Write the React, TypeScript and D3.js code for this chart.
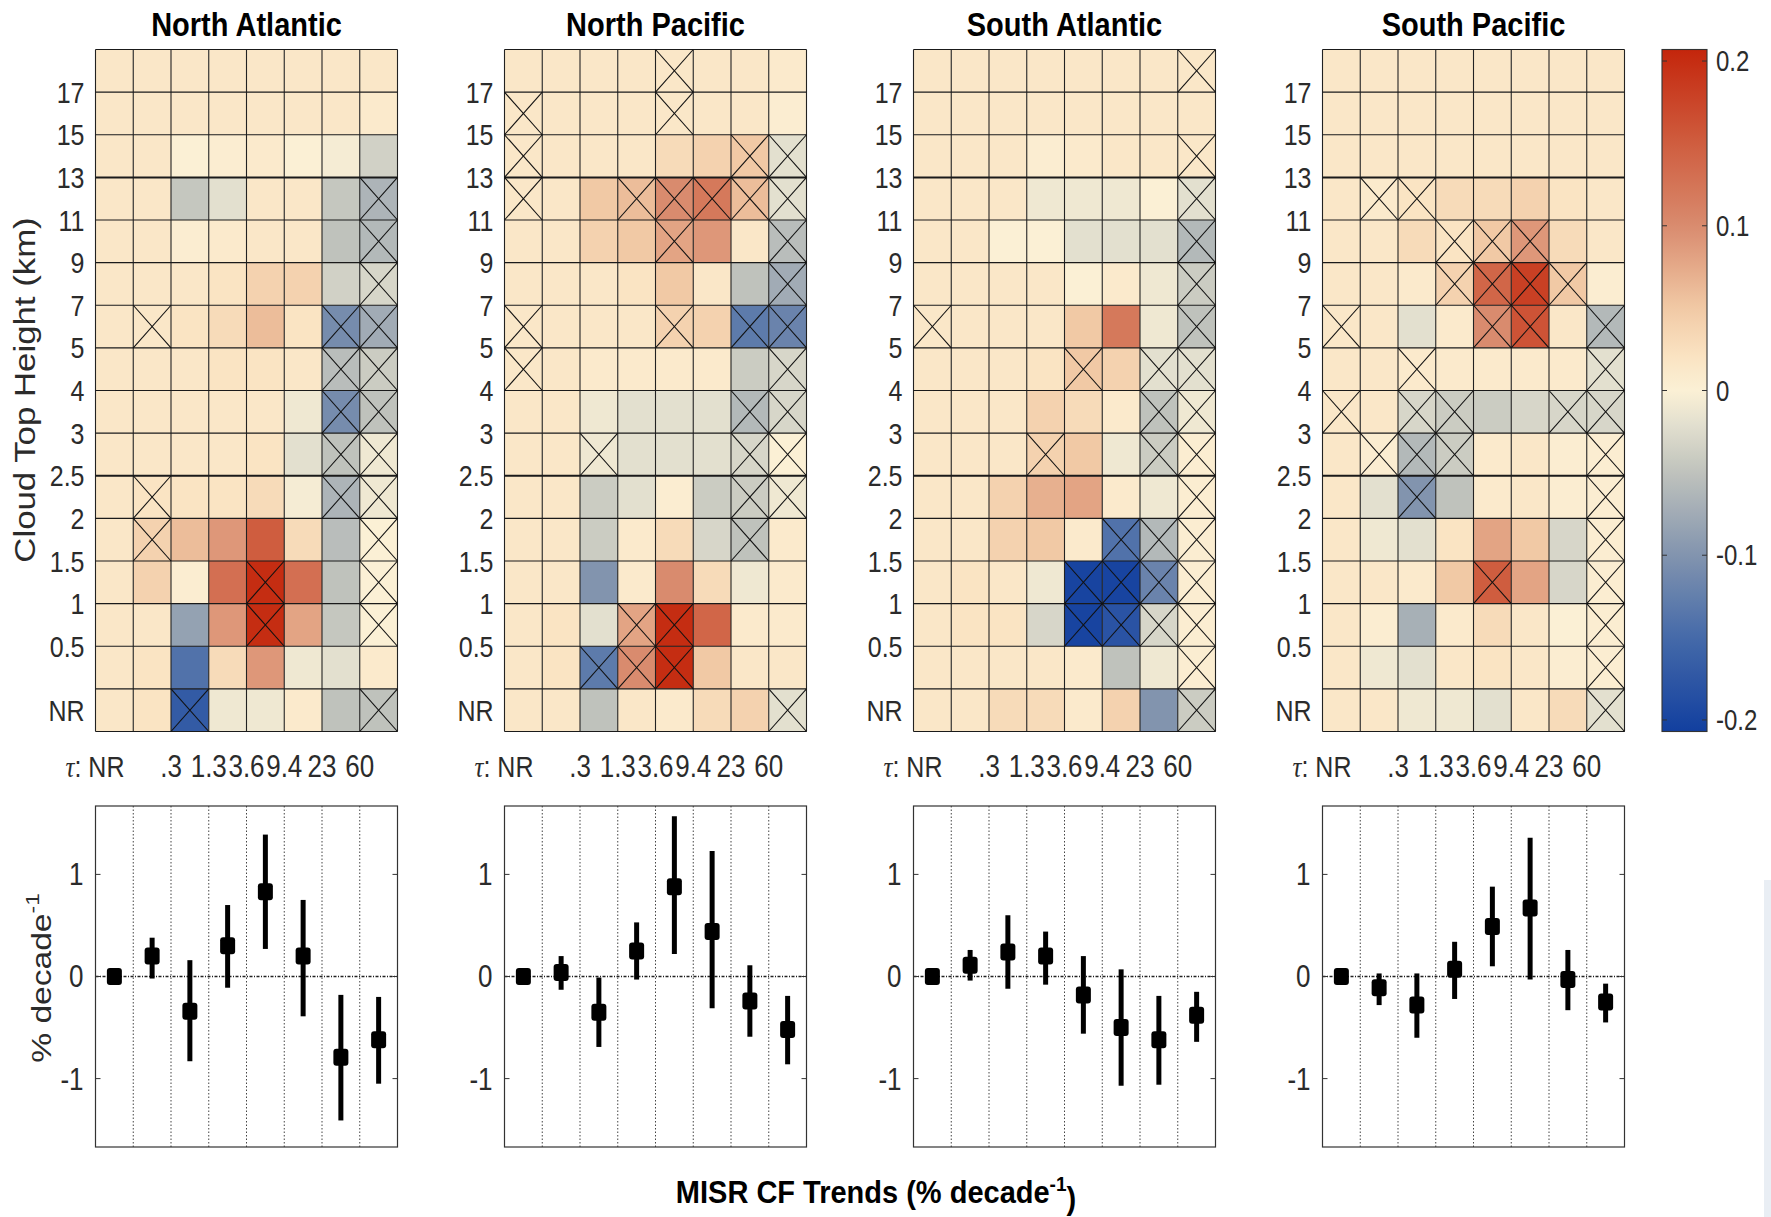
import React from "react";
import * as d3 from "d3";

// ---------------- DATA ----------------
const regions = ["North Atlantic", "North Pacific", "South Atlantic", "South Pacific"];
// height rows, top (>17 km) to bottom (NR)
const heightLabels = ["17", "15", "13", "11", "9", "7", "5", "4", "3", "2.5", "2", "1.5", "1", "0.5"];
const tauLabels = [".3", "1.3", "3.6", "9.4", "23", "60"];
const trendTicks = [1, 0, -1];
const colorTicks = [0.2, 0.1, 0, -0.1, -0.2];

const naTrend = [
  [0.015, 0.015, 0.015, 0.015, 0.015, 0.015, 0.015, 0.015],
  [0.015, 0.015, 0.015, 0.015, 0.015, 0.015, 0.015, 0.01],
  [0.015, 0.015, 0.0, 0.005, 0.01, 0.0, -0.005, -0.035],
  [0.015, 0.015, -0.045, -0.02, 0.015, 0.015, -0.045, -0.065],
  [0.015, 0.015, 0.005, 0.01, 0.015, 0.015, -0.05, -0.06],
  [0.015, 0.015, 0.015, 0.02, 0.04, 0.04, -0.035, -0.03],
  [0.015, 0.015, 0.02, 0.03, 0.06, 0.02, -0.11, -0.075],
  [0.015, 0.015, 0.015, 0.02, 0.02, 0.015, -0.055, -0.04],
  [0.015, 0.015, 0.015, 0.015, 0.015, -0.01, -0.11, -0.05],
  [0.015, 0.015, 0.015, 0.015, 0.02, -0.02, -0.05, -0.01],
  [0.015, 0.02, 0.02, 0.02, 0.03, -0.005, -0.065, -0.01],
  [0.015, 0.04, 0.06, 0.09, 0.15, 0.03, -0.055, 0.0],
  [0.015, 0.04, 0.005, 0.13, 0.2, 0.13, -0.05, 0.0],
  [0.015, 0.015, -0.085, 0.09, 0.2, 0.08, -0.045, 0.0],
  [0.015, 0.02, -0.14, 0.03, 0.09, -0.01, -0.02, 0.01],
  [0.015, 0.02, -0.17, -0.01, -0.01, 0.01, -0.05, -0.05],
];
const naSig = [
  "........", "........", "........", ".......x", ".......x", ".......x", ".x....xx", "......xx",
  "......xx", "......xx", ".x....xx", ".x.....x", "....x..x", "....x..x", "........", "..x....x",
];

const npTrend = [
  [0.015, 0.015, 0.015, 0.015, 0.015, 0.015, 0.015, 0.01],
  [0.015, 0.015, 0.015, 0.015, 0.015, 0.015, 0.015, 0.005],
  [0.015, 0.015, 0.015, 0.015, 0.03, 0.04, 0.05, -0.02],
  [0.015, 0.015, 0.05, 0.06, 0.1, 0.12, 0.06, -0.02],
  [0.015, 0.015, 0.04, 0.05, 0.08, 0.09, 0.015, -0.055],
  [0.015, 0.015, 0.015, 0.02, 0.05, 0.015, -0.05, -0.075],
  [0.015, 0.015, 0.015, 0.015, 0.04, 0.04, -0.13, -0.12],
  [0.015, 0.015, 0.01, 0.01, 0.01, 0.01, -0.04, -0.03],
  [0.015, 0.015, -0.01, -0.02, -0.02, -0.02, -0.06, -0.03],
  [0.015, 0.015, -0.01, -0.02, -0.02, -0.02, -0.03, 0.0],
  [0.015, 0.015, -0.04, -0.02, 0.005, -0.04, -0.04, -0.01],
  [0.015, 0.015, -0.04, 0.01, 0.03, -0.03, -0.05, 0.01],
  [0.015, 0.015, -0.1, 0.01, 0.1, 0.03, -0.01, 0.01],
  [0.015, 0.02, -0.02, 0.08, 0.2, 0.14, 0.01, 0.01],
  [0.015, 0.02, -0.13, 0.1, 0.2, 0.05, 0.015, 0.015],
  [0.015, 0.015, -0.05, 0.015, 0.01, 0.03, 0.04, -0.02],
];
const npSig = [
  "....x...", "x...x...", "x.....xx", "x..xxxxx", "....x..x", ".......x", "x...x.xx", "x......x",
  "......xx", "..x...xx", "......xx", "......x.", "........", "...xx...", "..xxx...", ".......x",
];

const saTrend = [
  [0.015, 0.015, 0.015, 0.015, 0.015, 0.015, 0.015, 0.015],
  [0.015, 0.015, 0.015, 0.015, 0.015, 0.015, 0.015, 0.015],
  [0.015, 0.015, 0.015, 0.005, 0.01, 0.015, 0.015, 0.015],
  [0.015, 0.015, 0.015, -0.01, -0.01, -0.01, 0.0, -0.02],
  [0.015, 0.015, 0.0, 0.0, -0.02, -0.02, -0.02, -0.06],
  [0.015, 0.015, 0.015, 0.015, 0.0, 0.01, -0.01, -0.04],
  [0.015, 0.015, 0.015, 0.015, 0.05, 0.12, -0.01, -0.05],
  [0.015, 0.015, 0.015, 0.02, 0.05, 0.04, -0.02, -0.02],
  [0.015, 0.015, 0.015, 0.04, 0.03, 0.01, -0.05, -0.01],
  [0.015, 0.015, 0.015, 0.04, 0.05, -0.01, -0.04, 0.005],
  [0.015, 0.015, 0.04, 0.07, 0.08, 0.01, -0.01, 0.005],
  [0.015, 0.015, 0.04, 0.05, 0.01, -0.14, -0.06, 0.005],
  [0.015, 0.02, 0.015, -0.01, -0.2, -0.2, -0.12, 0.005],
  [0.015, 0.02, 0.02, -0.03, -0.2, -0.18, -0.03, 0.005],
  [0.015, 0.015, 0.015, 0.015, 0.01, -0.05, -0.01, 0.005],
  [0.015, 0.015, 0.03, 0.03, 0.01, 0.04, -0.1, -0.04],
];
const saSig = [
  ".......x", "........", ".......x", ".......x", ".......x", ".......x", "x......x", "....x.xx",
  "......xx", "...x..xx", ".......x", ".....xxx", "....xxxx", "....xxxx", ".......x", ".......x",
];

const spTrend = [
  [0.015, 0.015, 0.015, 0.015, 0.015, 0.015, 0.015, 0.015],
  [0.015, 0.015, 0.015, 0.015, 0.015, 0.015, 0.015, 0.015],
  [0.015, 0.015, 0.015, 0.015, 0.015, 0.015, 0.015, 0.015],
  [0.015, 0.01, 0.02, 0.03, 0.03, 0.04, 0.02, 0.015],
  [0.015, 0.015, 0.03, 0.02, 0.05, 0.09, 0.03, 0.015],
  [0.015, 0.015, 0.01, 0.04, 0.14, 0.18, 0.05, 0.005],
  [0.015, 0.015, -0.02, 0.01, 0.1, 0.16, 0.015, -0.06],
  [0.015, 0.015, 0.01, 0.01, 0.01, 0.01, 0.01, -0.02],
  [0.015, 0.015, -0.03, -0.04, -0.04, -0.03, -0.03, -0.03],
  [0.015, 0.005, -0.06, -0.04, 0.01, 0.015, 0.005, 0.005],
  [0.015, -0.02, -0.1, -0.05, 0.01, 0.015, 0.005, 0.005],
  [0.015, -0.01, -0.02, 0.02, 0.08, 0.05, -0.03, 0.005],
  [0.015, 0.015, 0.01, 0.05, 0.15, 0.08, -0.03, 0.005],
  [0.015, 0.005, -0.07, 0.01, 0.03, 0.015, 0.0, 0.005],
  [0.015, -0.01, -0.02, 0.015, 0.02, 0.015, 0.005, 0.005],
  [0.015, 0.015, -0.01, -0.01, -0.02, 0.015, 0.03, -0.02],
];
const spSig = [
  "........", "........", "........", ".xx.....", "...xxx..", "...xxxx.", "x...xx.x", "..x....x",
  "x.xx..xx", ".xxx...x", "..x....x", ".......x", "....x..x", ".......x", ".......x", ".......x",
];

// column-integrated trends (% decade^-1), by tau bin
const naMean = [0, 0.2, -0.34, 0.3, 0.83, 0.2, -0.79, -0.62];
const naLo = [-0.03, -0.02, -0.83, -0.11, 0.27, -0.39, -1.41, -1.05];
const naHi = [0.03, 0.38, 0.16, 0.7, 1.39, 0.75, -0.18, -0.2];
const npMean = [0, 0.04, -0.35, 0.25, 0.88, 0.44, -0.24, -0.52];
const npLo = [-0.03, -0.13, -0.69, -0.03, 0.22, -0.31, -0.59, -0.86];
const npHi = [0.03, 0.2, -0.01, 0.53, 1.57, 1.23, 0.11, -0.19];
const saMean = [0, 0.11, 0.24, 0.2, -0.18, -0.5, -0.62, -0.38];
const saLo = [-0.03, -0.04, -0.12, -0.08, -0.56, -1.07, -1.06, -0.64];
const saHi = [0.03, 0.26, 0.6, 0.44, 0.2, 0.07, -0.19, -0.15];
const spMean = [0, -0.11, -0.28, 0.07, 0.49, 0.67, -0.03, -0.25];
const spLo = [-0.03, -0.28, -0.6, -0.22, 0.1, -0.03, -0.33, -0.45];
const spHi = [0.03, 0.03, 0.03, 0.34, 0.88, 1.36, 0.26, -0.07];

const trends = [naTrend, npTrend, saTrend, spTrend];
const sigs = [naSig, npSig, saSig, spSig];
const means = [naMean, npMean, saMean, spMean];
const los = [naLo, npLo, saLo, spLo];
const his = [naHi, npHi, saHi, spHi];

// ---------------- LAYOUT ----------------
const WIDTH = 1771;
const HEIGHT = 1217;
const PANEL_W = 302;
const PANEL_STEP = 409;
const LEFT0 = 95.5;
const HM_TOP = 49.5;
const HM_BOT = 731.5;
const BOT_TOP = 806;
const BOT_BOT = 1147;
const CB_X0 = 1662;
const CB_X1 = 1707;
const FONT = "'Liberation Sans', Arial, Helvetica, sans-serif";
const TXT = "#2b2b2b";
const SY = 1.2;

const CLIM = 0.207;
const colorStops: [number, string][] = [
  [-0.207, "#123f9f"],
  [-0.15, "#456aa9"],
  [-0.1, "#8294ae"],
  [-0.05, "#bfc2bc"],
  [-0.02, "#e3e0cf"],
  [0.0, "#fbf0d5"],
  [0.02, "#fae4c3"],
  [0.05, "#f1c9a5"],
  [0.1, "#d98b6e"],
  [0.15, "#cf5d3f"],
  [0.207, "#c4260c"],
];
const color = d3
  .scaleLinear<string>()
  .domain(colorStops.map((d) => d[0]))
  .range(colorStops.map((d) => d[1]))
  .interpolate(d3.interpolateRgb)
  .clamp(true);

function Txt(props: {
  x: number;
  y: number;
  size: number;
  anchor?: string;
  weight?: string;
  rotate?: boolean;
  sy?: number;
  fill?: string;
  children: React.ReactNode;
}) {
  const s = props.sy ?? SY;
  const tr = props.rotate
    ? `translate(${props.x},${props.y}) rotate(-90) scale(${s},1)`
    : `translate(${props.x},${props.y}) scale(1,${s})`;
  return (
    <g transform={tr}>
      <text
        x={0}
        y={0}
        dy="0.35em"
        textAnchor={props.anchor ?? "middle"}
        fontFamily={FONT}
        fontSize={props.size}
        fontWeight={props.weight ?? "normal"}
        fill={props.fill ?? TXT}
      >
        {props.children}
      </text>
    </g>
  );
}

function Heatmap({ idx }: { idx: number }) {
  const left = LEFT0 + idx * PANEL_STEP;
  const data = trends[idx];
  const sig = sigs[idx];
  const x = d3.scaleBand<number>().domain(d3.range(8)).range([left, left + PANEL_W]);
  const y = d3.scaleBand<number>().domain(d3.range(16)).range([HM_TOP, HM_BOT]);
  const cw = x.bandwidth();
  const rh = y.bandwidth();
  return (
    <g>
      {data.map((row, r) =>
        row.map((v, c) => (
          <rect key={`c${r}-${c}`} x={x(c)} y={y(r)} width={cw} height={rh} fill={color(v)} />
        ))
      )}
      {/* grid */}
      {d3.range(9).map((c) => (
        <line key={`v${c}`} x1={left + c * cw} x2={left + c * cw} y1={HM_TOP} y2={HM_BOT} stroke="#222" strokeWidth={1.1} />
      ))}
      {d3.range(17).map((r) => (
        <line
          key={`h${r}`}
          x1={left}
          x2={left + PANEL_W}
          y1={HM_TOP + r * rh}
          y2={HM_TOP + r * rh}
          stroke="#1a1a1a"
          strokeWidth={r === 3 || r === 10 ? 2 : 1.1}
        />
      ))}
      {/* significance crosses */}
      {sig.map((row, r) =>
        row.split("").map((ch, c) =>
          ch === "x" ? (
            <g key={`x${r}-${c}`} stroke="#111" strokeWidth={1.1}>
              <line x1={x(c)} y1={y(r)} x2={(x(c) as number) + cw} y2={(y(r) as number) + rh} />
              <line x1={(x(c) as number) + cw} y1={y(r)} x2={x(c)} y2={(y(r) as number) + rh} />
            </g>
          ) : null
        )
      )}
      {/* title */}
      <Txt x={left + PANEL_W / 2} y={24} size={29} weight="bold" fill="#000" sy={1.15}>
        {regions[idx]}
      </Txt>
      {/* y labels */}
      {heightLabels.map((lab, i) => (
        <Txt key={lab} x={left - 11} y={HM_TOP + (i + 1) * rh} size={25} anchor="end">
          {lab}
        </Txt>
      ))}
      <Txt x={left - 11} y={HM_TOP + 15.5 * rh} size={25} anchor="end">
        NR
      </Txt>
      {/* tau labels */}
      <g transform={`translate(${left - 30},766) scale(1,${SY})`}>
        <text x={0} y={0} dy="0.35em" fontFamily={FONT} fontSize={25} fill={TXT}>
          <tspan fontFamily="'Liberation Serif', 'DejaVu Serif', serif" fontStyle="italic">
            τ
          </tspan>
          : NR
        </text>
      </g>
      {tauLabels.map((lab, i) => (
        <Txt key={lab} x={left + (i + 2) * cw} y={766} size={26}>
          {lab}
        </Txt>
      ))}
    </g>
  );
}

function TrendPanel({ idx }: { idx: number }) {
  const left = LEFT0 + idx * PANEL_STEP;
  const x = d3.scaleBand<number>().domain(d3.range(8)).range([left, left + PANEL_W]);
  const y = d3.scaleLinear().domain([-1.67, 1.67]).range([BOT_BOT, BOT_TOP]);
  const cw = x.bandwidth();
  const m = means[idx];
  const lo = los[idx];
  const hi = his[idx];
  return (
    <g>
      <rect x={left} y={BOT_TOP} width={PANEL_W} height={BOT_BOT - BOT_TOP} fill="#fff" />
      {d3.range(1, 8).map((c) => (
        <line
          key={`g${c}`}
          x1={left + c * cw}
          x2={left + c * cw}
          y1={BOT_TOP}
          y2={BOT_BOT}
          stroke="#444"
          strokeWidth={1}
          strokeDasharray="1.5,2"
        />
      ))}
      <line x1={left} x2={left + PANEL_W} y1={y(0)} y2={y(0)} stroke="#222" strokeWidth={1.3} strokeDasharray="3,1.5,1,1.5" />
      {trendTicks.map((t) => (
        <g key={`t${t}`}>
          <line x1={left} x2={left + 5} y1={y(t)} y2={y(t)} stroke="#333" />
          <line x1={left + PANEL_W - 5} x2={left + PANEL_W} y1={y(t)} y2={y(t)} stroke="#333" />
          <Txt x={left - 12} y={y(t)} size={26} anchor="end">
            {t}
          </Txt>
        </g>
      ))}
      {m.map((v, c) => {
        const cx = (x(c) as number) + cw / 2;
        return (
          <g key={`p${c}`}>
            <line x1={cx} x2={cx} y1={y(lo[c])} y2={y(hi[c])} stroke="#000" strokeWidth={5} />
            <rect x={cx - 7.5} y={y(v) - 8.5} width={15} height={17} rx={3} fill="#000" />
          </g>
        );
      })}
      <rect x={left} y={BOT_TOP} width={PANEL_W} height={BOT_BOT - BOT_TOP} fill="none" stroke="#333" strokeWidth={1.2} />
    </g>
  );
}

function ColorBar() {
  const y = d3.scaleLinear().domain([-CLIM, CLIM]).range([HM_BOT, HM_TOP]);
  const samples = d3.range(0, 1.0001, 0.025).map((t) => -CLIM + t * 2 * CLIM);
  return (
    <g>
      <defs>
        <linearGradient id="cbgrad" x1="0" y1="1" x2="0" y2="0">
          {samples.map((v, i) => (
            <stop key={i} offset={`${(i / (samples.length - 1)) * 100}%`} stopColor={color(v)} />
          ))}
        </linearGradient>
      </defs>
      <rect x={CB_X0} y={HM_TOP} width={CB_X1 - CB_X0} height={HM_BOT - HM_TOP} fill="url(#cbgrad)" stroke="#333" strokeWidth={1.1} />
      {colorTicks.map((t) => (
        <g key={`ct${t}`}>
          <line x1={CB_X1 - 5} x2={CB_X1} y1={y(t)} y2={y(t)} stroke="#333" />
          <line x1={CB_X0} x2={CB_X0 + 5} y1={y(t)} y2={y(t)} stroke="#333" />
          <Txt x={1716} y={y(t)} size={24} anchor="start">
            {t === 0 ? "0" : String(t)}
          </Txt>
        </g>
      ))}
    </g>
  );
}

export default function App() {
  return (
    <div style={{ position: "absolute", left: 0, top: 0 }}>
      <svg width={WIDTH} height={HEIGHT} viewBox={`0 0 ${WIDTH} ${HEIGHT}`} style={{ display: "block", background: "#fff" }}>
        <rect x={0} y={0} width={WIDTH} height={HEIGHT} fill="#fff" />
        {d3.range(4).map((i) => (
          <Heatmap key={`h${i}`} idx={i} />
        ))}
        {d3.range(4).map((i) => (
          <TrendPanel key={`b${i}`} idx={i} />
        ))}
        <ColorBar />
        <Txt x={25} y={390} size={29} rotate>
          Cloud Top Height (km)
        </Txt>
        <g transform={`translate(41,978) rotate(-90) scale(${SY},1)`}>
          <text x={0} y={0} dy="0.35em" textAnchor="middle" fontFamily={FONT} fontSize={28} fill={TXT}>
            % decade
            <tspan fontSize={19} dy="-0.6em">
              -1
            </tspan>
          </text>
        </g>
        <g transform={`translate(876,1192) scale(1,1.08)`}>
          <text x={0} y={0} dy="0.35em" textAnchor="middle" fontFamily={FONT} fontSize={29} fontWeight="bold" fill="#000">
            MISR CF Trends (% decade
            <tspan fontSize={19} dy="-0.6em">
              -1
            </tspan>
            <tspan dy="0.6em">)</tspan>
          </text>
        </g>
        <rect x={1764} y={880} width={7} height={337} fill="#e9eef4" />
      </svg>
    </div>
  );
}
